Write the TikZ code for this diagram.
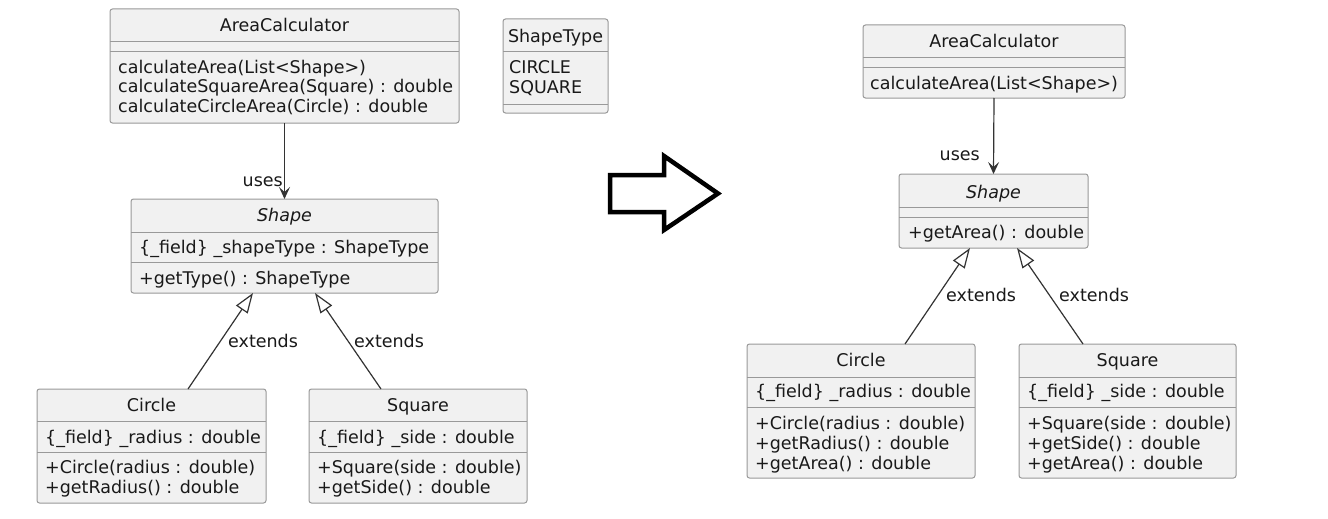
\documentclass[tikz,border=0pt]{standalone}
\usepackage{fontspec}
\setmainfont{DejaVu Sans}
\usetikzlibrary{arrows.meta}
\definecolor{boxfill}{HTML}{F1F1F1}
\definecolor{boxline}{HTML}{999999}
\definecolor{arrline}{HTML}{333333}
\begin{document}
\begin{tikzpicture}[x=1pt,y=-1pt,
  cls/.style={draw=boxline, fill=boxfill, rounded corners=2.5pt, inner sep=0pt, outer sep=0pt, anchor=north west, line width=1pt},
  sepl/.style={draw=boxline, line width=1pt},
  txt/.style={inner sep=0pt, font=\fontsize{17.5}{20}\selectfont, text height=12.4pt, text depth=0pt, text=black!90},
  mem/.style={txt, anchor=west},
  ttl/.style={txt, anchor=center},
  usesarr/.style={draw=arrline, line width=1.2pt, -{Stealth[length=12pt,width=11pt,inset=5pt]}},
  extarr/.style={draw=arrline, line width=1.2pt, -{Triangle[open, length=20pt, width=14pt, fill=white, line width=1.2pt]}},
]
\useasboundingbox (0,0) rectangle (1328,519);
\fill[white] (0,0) rectangle (1328,519);

% ---------- left diagram ----------
\node[cls, minimum width=349pt, minimum height=114pt] (ac1) at (110,9) {};
\draw[sepl] (ac1.west |- 0,42) -- (ac1.east |- 0,42);
\draw[sepl] (ac1.west |- 0,52) -- (ac1.east |- 0,52);
\node[ttl] (ac1t) at (284.5,25) {AreaCalculator};
\node[mem] (ac1m1) at (118,67) {calculateArea(List<Shape>)};
\node[mem] (ac1m2) at (118,86.5) {calculateSquareArea(Square) : double};
\node[mem] (ac1m3) at (118,106) {calculateCircleArea(Circle) : double};

\node[cls, minimum width=105pt, minimum height=94pt] (st1) at (503,19) {};
\draw[sepl] (st1.west |- 0,52) -- (st1.east |- 0,52);
\draw[sepl] (st1.west |- 0,104) -- (st1.east |- 0,104);
\node[ttl] (st1t) at (555.5,36) {ShapeType};
\node[mem] (st1f1) at (509,67) {CIRCLE};
\node[mem] (st1f2) at (509,87) {SQUARE};

\node[cls, minimum width=307pt, minimum height=94pt] (sh1) at (131,199) {};
\draw[sepl] (sh1.west |- 0,232) -- (sh1.east |- 0,232);
\draw[sepl] (sh1.west |- 0,262) -- (sh1.east |- 0,262);
\node[ttl, font=\fontsize{17.5}{20}\selectfont\itshape] (sh1t) at (284.5,215) {Shape};
\node[mem] (sh1f) at (139,247) {\{\_field\} \_shapeType : ShapeType};
\node[mem] (sh1m) at (139,278) {+getType() : ShapeType};

\node[cls, minimum width=229pt, minimum height=114pt] (ci1) at (37,389) {};
\draw[sepl] (ci1.west |- 0,421) -- (ci1.east |- 0,421);
\draw[sepl] (ci1.west |- 0,452) -- (ci1.east |- 0,452);
\node[ttl] (ci1t) at (151.5,405) {Circle};
\node[mem] (ci1f) at (45,437) {\{\_field\} \_radius : double};
\node[mem] (ci1m1) at (45,467) {+Circle(radius : double)};
\node[mem] (ci1m2) at (45,487) {+getRadius() : double};

\node[cls, minimum width=218pt, minimum height=114pt] (sq1) at (309,389) {};
\draw[sepl] (sq1.west |- 0,421) -- (sq1.east |- 0,421);
\draw[sepl] (sq1.west |- 0,452) -- (sq1.east |- 0,452);
\node[ttl] (sq1t) at (418,405) {Square};
\node[mem] (sq1f) at (317,437) {\{\_field\} \_side : double};
\node[mem] (sq1m1) at (317,467) {+Square(side : double)};
\node[mem] (sq1m2) at (317,487) {+getSide() : double};

\draw[usesarr] (ac1.south) -- (sh1.north);
\node[txt, anchor=east] (u1) at (283,180) {uses};
\draw[extarr] (ci1.north -| 188,0) -- (sh1.south -| 253,0);
\draw[extarr] (sq1.north -| 381,0) -- (sh1.south -| 315,0);
\node[mem] (e1) at (228,341) {extends};
\node[mem] (e2) at (354,341) {extends};

% ---------- big arrow ----------
\draw[line width=4.5pt, black, fill=white, line join=miter]
  (610,175) -- (664,175) -- (664,156) -- (718,193.5) -- (664,230) -- (664,212) -- (610,212) -- cycle;

% ---------- right diagram ----------
\node[cls, minimum width=262pt, minimum height=73pt] (ac2) at (863,25) {};
\draw[sepl] (ac2.west |- 0,58) -- (ac2.east |- 0,58);
\draw[sepl] (ac2.west |- 0,68) -- (ac2.east |- 0,68);
\node[ttl] (ac2t) at (994,41) {AreaCalculator};
\node[mem] (ac2m1) at (870,83) {calculateArea(List<Shape>)};

\node[cls, minimum width=189pt, minimum height=74pt] (sh2) at (899,174) {};
\draw[sepl] (sh2.west |- 0,207) -- (sh2.east |- 0,207);
\draw[sepl] (sh2.west |- 0,217) -- (sh2.east |- 0,217);
\node[ttl, font=\fontsize{17.5}{20}\selectfont\itshape] (sh2t) at (993.5,192) {Shape};
\node[mem] (sh2m) at (908,232) {+getArea() : double};

\node[cls, minimum width=228pt, minimum height=134pt] (ci2) at (747,344) {};
\draw[sepl] (ci2.west |- 0,377) -- (ci2.east |- 0,377);
\draw[sepl] (ci2.west |- 0,407) -- (ci2.east |- 0,407);
\node[ttl] (ci2t) at (861,360) {Circle};
\node[mem] (ci2f) at (755,391) {\{\_field\} \_radius : double};
\node[mem] (ci2m1) at (755,423) {+Circle(radius : double)};
\node[mem] (ci2m2) at (755,443) {+getRadius() : double};
\node[mem] (ci2m3) at (755,463) {+getArea() : double};

\node[cls, minimum width=217pt, minimum height=134pt] (sq2) at (1019,344) {};
\draw[sepl] (sq2.west |- 0,377) -- (sq2.east |- 0,377);
\draw[sepl] (sq2.west |- 0,407) -- (sq2.east |- 0,407);
\node[ttl] (sq2t) at (1127.5,360) {Square};
\node[mem] (sq2f) at (1027,391) {\{\_field\} \_side : double};
\node[mem] (sq2m1) at (1027,423) {+Square(side : double)};
\node[mem] (sq2m2) at (1027,443) {+getSide() : double};
\node[mem] (sq2m3) at (1027,463) {+getArea() : double};

\draw[usesarr] (ac2.south) -- (sh2.north);
\node[txt, anchor=east] (u2) at (980,154) {uses};
\draw[extarr] (ci2.north -| 905,0) -- (sh2.south -| 970,0);
\draw[extarr] (sq2.north -| 1083,0) -- (sh2.south -| 1017,0);
\node[mem] (e3) at (946,295) {extends};
\node[mem] (e4) at (1059,295) {extends};
\end{tikzpicture}
\end{document}
